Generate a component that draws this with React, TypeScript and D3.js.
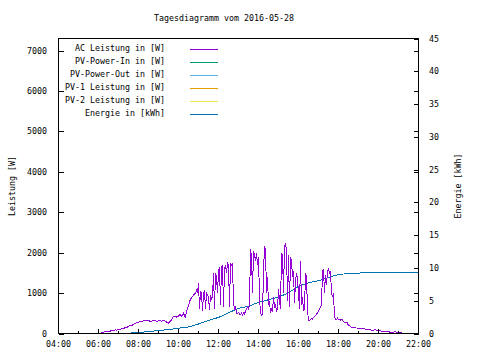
import React from "react";
import * as d3 from "d3";

const title = "Tagesdiagramm vom 2016-05-28";
const xTickLabels = ["04:00", "06:00", "08:00", "10:00", "12:00", "14:00", "16:00", "18:00", "20:00", "22:00"];
const yLeftTicks = [0, 1000, 2000, 3000, 4000, 5000, 6000, 7000];
const yRightTicks = [0, 5, 10, 15, 20, 25, 30, 35, 40, 45];

const legendLabels = [
  "AC Leistung in [W]",
  "PV-Power-In in [W]",
  "PV-Power-Out in [W]",
  "PV-1 Leistung in [W]",
  "PV-2 Leistung in [W]",
  "Energie in [kWh]",
];
const legendColors = ["#9400d3", "#009e73", "#56b4e9", "#e69f00", "#f0e442", "#0072b2"];

const acTimes = [
  "06:05","06:10","06:15","06:20","06:25","06:30","06:35","06:40","06:45","06:50","06:55",
  "07:00","07:05","07:10","07:15","07:20","07:25","07:30","07:35","07:40","07:45","07:50","07:55",
  "08:00","08:05","08:10","08:15","08:20","08:25","08:30","08:35","08:40","08:45","08:50","08:55",
  "09:00","09:05","09:10","09:15","09:20","09:25","09:30","09:35","09:40","09:45","09:50","09:55",
  "10:00","10:05","10:10","10:15","10:20","10:25","10:30","10:35","10:40","10:45","10:48","10:51","10:54","10:57",
  "11:00","11:03","11:06","11:09","11:12","11:15","11:18","11:21","11:24","11:27","11:30","11:33","11:36","11:39","11:42","11:45","11:48","11:51","11:54","11:57",
  "12:00","12:03","12:06","12:09","12:12","12:15","12:18","12:21","12:24","12:27","12:30","12:33","12:36","12:39","12:42","12:45","12:48","12:51","12:54","12:57",
  "13:00","13:03","13:06","13:09","13:12","13:15","13:18","13:21","13:24","13:27","13:30","13:33","13:36","13:39","13:42","13:45","13:48","13:51","13:54","13:57",
  "14:00","14:03","14:06","14:09","14:12","14:15","14:18","14:21","14:24","14:27","14:30","14:33","14:36","14:39","14:42","14:45","14:48","14:51","14:54","14:57",
  "15:00","15:03","15:06","15:09","15:12","15:15","15:18","15:21","15:24","15:27","15:30","15:33","15:36","15:39","15:42","15:45","15:48","15:51","15:54","15:57",
  "16:00","16:03","16:06","16:09","16:12","16:15","16:18","16:21","16:24","16:27","16:30","16:33","16:36","16:39","16:42","16:45","16:48","16:51","16:54","16:57",
  "17:00","17:03","17:06","17:09","17:12","17:15","17:18","17:21","17:24","17:27","17:30","17:33","17:36","17:39","17:42","17:45","17:48","17:51","17:54","17:57",
  "18:00","18:05","18:10","18:15","18:20","18:25","18:30","18:35","18:40","18:50",
  "19:00","19:10","19:20","19:30","19:40","19:50",
  "20:00","20:10","20:20","20:30","20:40","20:50",
  "21:00","21:10","21:15",
];
const acValues = [
  0,20,30,50,45,60,55,80,70,90,85,
  110,100,130,120,150,140,180,200,190,230,250,270,
  280,290,300,310,320,310,320,300,310,320,330,300,
  310,320,300,330,310,280,260,300,350,420,430,400,
  430,470,420,500,410,560,700,830,900,950,980,1000,1060,1000,
  1250,600,1050,980,560,1000,1050,600,1000,950,900,570,950,850,900,1500,600,1500,1400,1000,
  1550,1650,700,1650,1700,650,1600,1700,1500,1750,1700,650,1750,1700,1750,750,600,650,500,500,
  520,480,470,500,460,520,480,560,600,650,600,700,2100,1900,1000,2050,1950,1800,2000,1700,
  1900,900,500,450,480,1500,2150,2100,1000,1400,700,800,500,600,550,900,650,700,550,600,
  1100,800,600,2000,1950,1000,2150,2200,2100,800,1950,650,1900,1800,1400,1550,750,1300,1500,1350,
  1000,600,1800,700,900,570,600,1500,1400,570,330,320,350,380,360,400,420,450,480,500,
  550,600,650,700,1550,1600,1000,1450,1200,1550,1600,1500,1550,1000,900,1000,400,360,340,380,
  350,330,360,300,260,280,200,180,150,140,
  130,120,110,100,80,90,
  70,60,50,40,30,40,
  20,15,0,
];

const energyTimes = [
  "07:10","07:30","08:00","08:30","09:00","09:30","10:00","10:30","11:00","11:30",
  "12:00","12:30","13:00","13:30","14:00","14:30","15:00","15:30","16:00","16:30",
  "17:00","17:30","18:00","18:30","19:00","19:30","20:00","22:00",
];
const energyValues = [
  0,0.05,0.15,0.3,0.45,0.6,0.8,1.0,1.45,2.0,
  2.45,3.15,3.85,4.15,4.75,5.15,5.55,6.2,7.2,7.75,
  8.05,8.55,9.0,9.15,9.22,9.26,9.28,9.28,
];

const toHours = (s: string) => {
  const [h, m] = s.split(":").map(Number);
  return h + m / 60;
};

const FONT = "'DejaVu Sans Mono', monospace";
const FS = 8.3;

export default function App() {
  const left = 58.5, right = 418.5, top = 38.5, bottom = 333.5;
  const x = d3.scaleLinear().domain([4, 22]).range([left, right]);
  const yL = d3.scaleLinear().domain([0, 7300]).range([bottom, top]);
  const yR = d3.scaleLinear().domain([0, 45]).range([bottom, top]);

  const acData = acTimes.map((t, i) => [toHours(t), acValues[i]] as [number, number]);
  const enData = energyTimes.map((t, i) => [toHours(t), energyValues[i]] as [number, number]);

  const acLine = d3.line<[number, number]>().x(d => x(d[0])).y(d => yL(d[1]));
  const enLine = d3.line<[number, number]>().x(d => x(d[0])).y(d => yR(d[1]));

  const hourTicks = d3.range(4, 23);

  return (
    <svg width={480} height={360} style={{ display: "block", position: "absolute", left: 0, top: 0, background: "#fff" }}
      fontFamily={FONT} fontSize={FS}>
      <rect x={0} y={0} width={480} height={360} fill="#fff" />
      <text x={224} y={21} textAnchor="middle" fill="#000">{title}</text>

      {/* data */}
      <path d={enLine(enData) || ""} fill="none" stroke={legendColors[5]} strokeWidth={1} shapeRendering="crispEdges" />
      <path d={acLine(acData) || ""} fill="none" stroke={legendColors[0]} strokeWidth={1} shapeRendering="crispEdges" />

      {/* x ticks */}
      {hourTicks.map(h => {
        const major = (h - 4) % 2 === 0;
        const xx = Math.round(x(h)) + 0.5 - 1;
        return <line key={"xt" + h} x1={xx} x2={xx} y1={bottom} y2={bottom - (major ? 5 : 3)} stroke="#000" shapeRendering="crispEdges" />;
      })}
      {xTickLabels.map(lbl => (
        <text key={lbl} x={x(toHours(lbl))} y={347} textAnchor="middle" fill="#000">{lbl}</text>
      ))}

      {/* left y ticks (mirrored on right) */}
      {yLeftTicks.map(v => (
        <g key={"yl" + v}>
          <line x1={left} x2={left + 5} y1={Math.round(yL(v)) + 0.5} y2={Math.round(yL(v)) + 0.5} stroke="#000" shapeRendering="crispEdges" />
          <line x1={right} x2={right - 5} y1={Math.round(yL(v)) + 0.5} y2={Math.round(yL(v)) + 0.5} stroke="#000" shapeRendering="crispEdges" />
          <text x={47} y={yL(v) + 3} textAnchor="end" fill="#000">{v}</text>
        </g>
      ))}
      {yRightTicks.map(v => (
        <g key={"yr" + v}>
          <line x1={right} x2={right - 5} y1={Math.round(yR(v)) + 0.5} y2={Math.round(yR(v)) + 0.5} stroke="#000" shapeRendering="crispEdges" />
          <text x={429} y={yR(v) + 3} textAnchor="start" fill="#000">{v}</text>
        </g>
      ))}

      {/* frame */}
      <rect x={left} y={top} width={right - left} height={bottom - top} fill="none" stroke="#000" shapeRendering="crispEdges" />

      {/* axis titles */}
      <text transform={`translate(15,186) rotate(-90)`} textAnchor="middle" fill="#000">Leistung [W]</text>
      <text transform={`translate(461,186) rotate(-90)`} textAnchor="middle" fill="#000">Energie [kWh]</text>

      {/* legend */}
      {legendLabels.map((lbl, i) => {
        const ly = 49.5 + i * 13;
        return (
          <g key={lbl}>
            <text x={165} y={ly + 1.5} textAnchor="end" fill="#000">{lbl}</text>
            <line x1={190} x2={218} y1={ly} y2={ly} stroke={legendColors[i]} shapeRendering="crispEdges" />
          </g>
        );
      })}
    </svg>
  );
}
